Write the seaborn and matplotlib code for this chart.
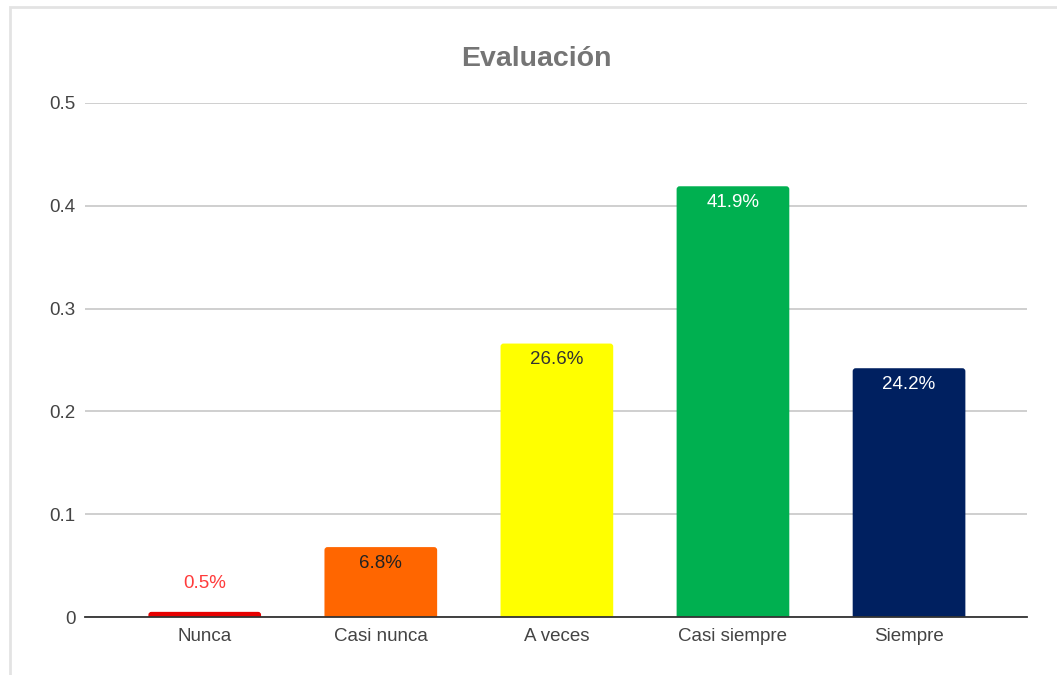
import matplotlib
matplotlib.use("Agg")
import matplotlib.pyplot as plt
from matplotlib.patches import FancyBboxPatch, Rectangle
import seaborn as sns
import pandas as pd

categories = ["Nunca", "Casi nunca", "A veces", "Casi siempre", "Siempre"]
values = [0.005, 0.068, 0.266, 0.419, 0.242]
labels = ["0.5%", "6.8%", "26.6%", "41.9%", "24.2%"]
bar_colors = ["#e60000", "#ff6600", "#ffff00", "#00b050", "#002060"]
label_colors = ["#ff3b3b", "#222222", "#333333", "#ffffff", "#ffffff"]
yticks = [0, 0.1, 0.2, 0.3, 0.4, 0.5]
ytick_labels = ["0", "0.1", "0.2", "0.3", "0.4", "0.5"]

sns.set_theme(style="white")
plt.rcParams["font.family"] = ["Liberation Sans", "DejaVu Sans"]

df = pd.DataFrame({"cat": categories, "val": values})

fig = plt.figure(figsize=(10.57, 6.75), dpi=100)
ax = fig.add_axes([85 / 1057, 1 - 617 / 675, (1027 - 85) / 1057, (617 - 103) / 675])

sns.barplot(data=df, x="cat", y="val", hue="cat", palette=bar_colors,
            legend=False, width=0.64, ax=ax, saturation=1)

ax.set_xlim(-0.68, 4.67)
ax.set_ylim(0, 0.5)

# swap the plain rectangles for ones with slightly rounded top corners
px_x = (1027 - 85) / (4.67 + 0.68)
px_y = (617 - 103) / 0.5
r_px = 3.0
rx = r_px / px_x
aspect = (r_px / px_y) / rx
for patch in list(ax.patches):
    x0 = patch.get_x()
    w = patch.get_width()
    h = patch.get_height()
    fc = patch.get_facecolor()
    patch.remove()
    ext = 2 * r_px / px_y
    rb = FancyBboxPatch((x0, -ext), w, h + ext,
                        boxstyle=f"round,pad=0,rounding_size={rx}",
                        mutation_aspect=aspect, facecolor=fc,
                        edgecolor="none", zorder=2, clip_on=True)
    ax.add_patch(rb)

# value labels: inside the bar top, or above the bar when it is too short
for i, (v, lab, c) in enumerate(zip(values, labels, label_colors)):
    dy = 28 if v < 0.03 else -16
    ax.annotate(lab, (i, v), xytext=(0, dy), textcoords="offset pixels",
                ha="center", va="center", color=c, fontsize=13.5, zorder=4)

ax.set_yticks(yticks)
ax.set_yticklabels(ytick_labels)
ax.grid(axis="y", color="#cccccc", linewidth=1.3, zorder=0)
ax.set_axisbelow(True)
for s in ["top", "right", "left"]:
    ax.spines[s].set_visible(False)
ax.spines["bottom"].set_color("#333333")
ax.spines["bottom"].set_linewidth(1.3)
ax.spines["bottom"].set_zorder(5)
ax.tick_params(axis="both", length=0, labelsize=13.5, colors="#444444")
ax.tick_params(axis="y", pad=7)
ax.tick_params(axis="x", pad=8)
ax.set_xlabel("")
ax.set_ylabel("")

fig.text(536 / 1057, 1 - 59 / 675, "Evaluación", ha="center", va="center",
         fontsize=20.5, fontweight="bold", color="#757575")

# outer chart frame
fig.patches.append(Rectangle((10 / 1057, -0.1), 1.2, 1 - 7 / 675 + 0.1,
                             transform=fig.transFigure, fill=False,
                             edgecolor="#e3e3e3", linewidth=2))

fig.savefig("out.png", dpi=100)
